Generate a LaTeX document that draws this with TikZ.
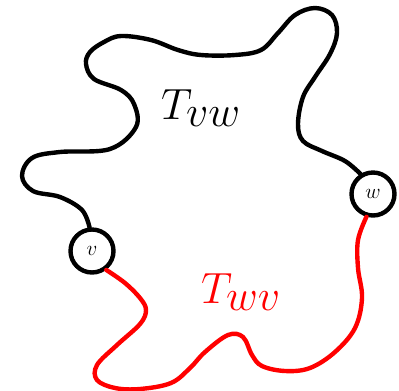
\documentclass[tikz,border=0pt]{standalone}
\usepackage{amsmath}
\usepackage{xcolor}
\usetikzlibrary{calc,positioning}

\tikzset{
  vertex/.style={circle,draw=black,line width=2.5pt,fill=white,minimum size=0.86cm,inner sep=0pt,font=\large},
  tour/.style={line width=2.5pt,line cap=round,line join=round},
}

\begin{document}
\begin{tikzpicture}[x=0.02cm,y=-0.02cm]
  \useasboundingbox (0,0) rectangle (399,390);
  \node[vertex] (v) at (92,251) {$v$};
  \node[vertex] (w) at (373,194) {$w$};
  % upper part of the tour
  \draw[tour,black] plot[smooth,tension=0.6] coordinates {(v.96) (82,210) (60,197) (33,191) (22,176) (32,158) (60,152) (110,149) (136,127) (134,104) (121,90) (94,79) (86,64) (90,52) (104,42) (121,36) (151,40) (178,50) (201,55) (235,55) (261,50) (278,33) (295,15) (315,8) (332,15) (337,33) (330,54) (315,77) (303,97) (298,124) (303,141) (322,151) (345,161) (w.122)};
  % lower part of the tour
  \draw[tour,red] plot[smooth,tension=0.6] coordinates {(v.-53) (125,283) (140,298) (146,310) (140,324) (117,345) (97,365) (97,380) (115,388) (140,389) (171,383) (190,368) (205,352) (228,335) (243,337) (252,355) (262,366) (285,371) (310,368) (335,352) (355,328) (362,298) (358,268) (358,240) (w.-106)};
  \node[font=\fontsize{34}{38}\selectfont] (tvw) at (201,108) {$T_{vw}$};
  \node[font=\fontsize{34}{38}\selectfont,red] (twv) at (241,292) {$T_{wv}$};
\end{tikzpicture}
\end{document}
